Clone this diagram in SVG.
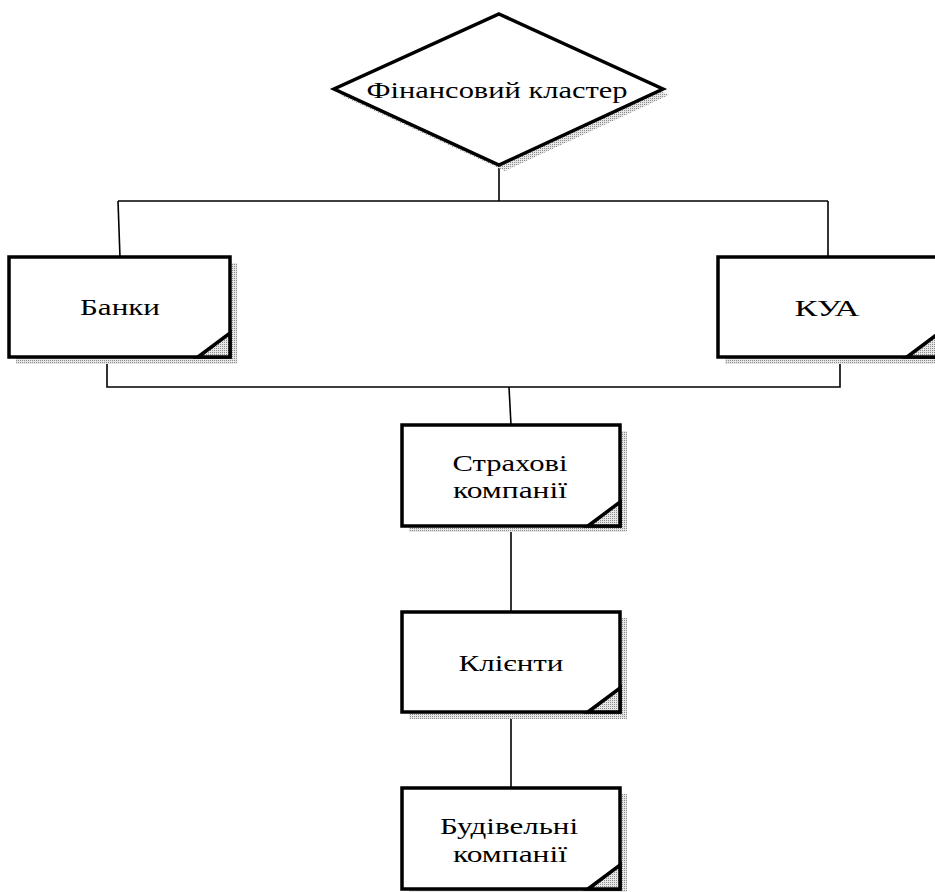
<svg xmlns="http://www.w3.org/2000/svg" width="935" height="892" viewBox="0 0 935 892">
<defs>
<pattern id="dots" width="2" height="2" patternUnits="userSpaceOnUse">
<rect width="2" height="2" fill="#e6e6e6"/>
<rect width="1" height="1" fill="#8a8a8a"/>
</pattern>
</defs>
<style>
.box{fill:#fff;stroke:#000;stroke-width:3.5;stroke-linejoin:miter}
.sh{fill:url(#dots);stroke:none}
.fold{fill:url(#dots);stroke:#000;stroke-width:3.5}
.con{fill:none;stroke:#000;stroke-width:1.6}
.t{font-family:"Liberation Serif","Times New Roman",serif;font-size:24px;fill:#000;text-anchor:middle}
</style>
<rect width="935" height="892" fill="#fff"/>
<g id="connectors">
<polyline class="con" points="499,165 499,201"/>
<polyline class="con" points="118,201 828,201"/>
<polyline class="con" points="118,201 120,257"/>
<polyline class="con" points="828,201 828,257"/>
<polyline class="con" points="107,357 107,387 840,387 840,357"/>
<polyline class="con" points="509,387 511,425"/>
<polyline class="con" points="511,526 511,612"/>
<polyline class="con" points="511,712 511,788"/>
</g>
<g id="cluster">
<polygon class="sh" points="505,20 669,95 505,171 340,95"/>
<polygon class="box" points="499,14 663,89 499,165 334,89"/>
<text class="t" x="497" y="98" textLength="261" lengthAdjust="spacingAndGlyphs">Фінансовий кластер</text>
</g>
<g id="banks">
<rect class="sh" x="16" y="263" width="221" height="101"/>
<rect class="box" x="9" y="257" width="221" height="100"/>
<polygon class="fold" points="198,357 230,333 230,357"/>
<text class="t" x="120" y="315" textLength="80" lengthAdjust="spacingAndGlyphs">Банки</text>
</g>
<g id="kua">
<rect class="sh" x="725" y="263" width="221" height="101"/>
<rect class="box" x="718" y="257" width="221" height="100"/>
<polygon class="fold" points="907,357 939,333 939,357"/>
<text class="t" x="827" y="316" textLength="65" lengthAdjust="spacingAndGlyphs">КУА</text>
</g>
<g id="insurance">
<rect class="sh" x="409" y="431" width="218" height="101"/>
<rect class="box" x="402" y="425" width="218" height="101"/>
<polygon class="fold" points="588,526 620,502 620,526"/>
<text class="t" x="510" y="471" textLength="115" lengthAdjust="spacingAndGlyphs">Страхові</text>
<text class="t" x="510" y="498" textLength="114" lengthAdjust="spacingAndGlyphs">компанії</text>
</g>
<g id="clients">
<rect class="sh" x="409" y="618" width="218" height="101"/>
<rect class="box" x="402" y="612" width="218" height="100"/>
<polygon class="fold" points="588,712 620,688 620,712"/>
<text class="t" x="511" y="671" textLength="105" lengthAdjust="spacingAndGlyphs">Клієнти</text>
</g>
<g id="construction">
<rect class="sh" x="409" y="794" width="218" height="101"/>
<rect class="box" x="402" y="788" width="218" height="101"/>
<polygon class="fold" points="588,889 620,865 620,889"/>
<text class="t" x="509" y="834" textLength="138" lengthAdjust="spacingAndGlyphs">Будівельні</text>
<text class="t" x="510" y="862" textLength="114" lengthAdjust="spacingAndGlyphs">компанії</text>
</g>
</svg>
